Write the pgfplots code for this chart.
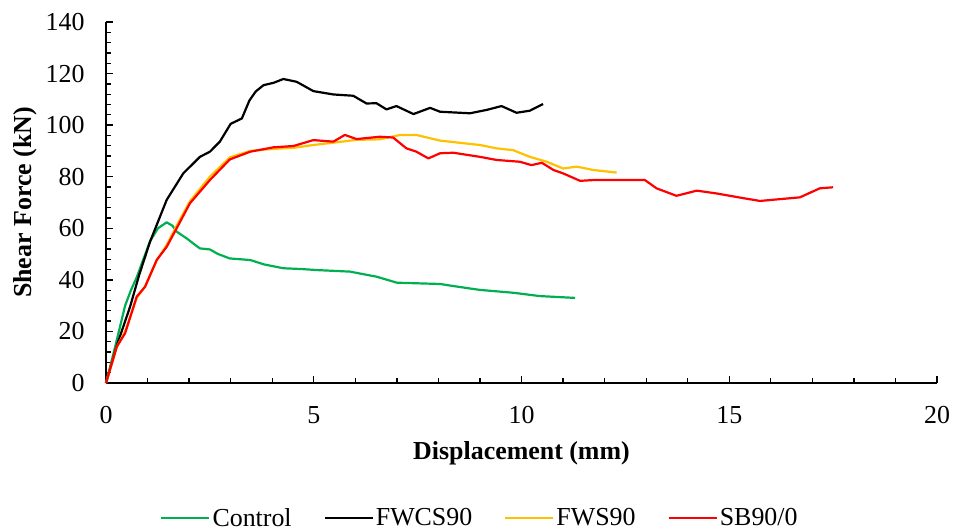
\documentclass[border=0pt]{standalone}
\usepackage{pgfplots}
\pgfplotsset{compat=1.18}
\usepackage{fontspec}
\setmainfont{Liberation Serif}
\definecolor{cgreen}{RGB}{0,176,80}
\definecolor{cyellow}{RGB}{255,192,0}
\definecolor{cred}{RGB}{255,0,0}
\begin{document}
\begin{tikzpicture}
\useasboundingbox (-106bp,-149bp) rectangle (847bp,383bp);
\begin{axis}[
  at={(0,0)}, anchor=south west,
  width=831bp, height=361bp, scale only axis,
  xmin=0, xmax=20, ymin=0, ymax=140,
  xtick={0,5,10,15,20}, ytick={0,20,...,140},
  minor x tick num=4, minor y tick num=4,
  axis lines*=left,
  axis line style={line width=1.8bp, black},
  tick style={line width=1.3bp, black},
  tick align=inside,
  major tick length=7bp, minor tick length=5bp,
  /pgf/number format/assume math mode=true,
  tick label style={font=\fontsize{26}{30}\selectfont},
  xticklabel style={yshift=-20bp},
  yticklabel style={xshift=-18bp},
  xlabel={\textbf{Displacement (mm)}},
  ylabel={\textbf{Shear Force (kN)}},
  label style={font=\fontsize{26}{30}\selectfont},
  xlabel style={at={(axis description cs:0.5,0)}, anchor=center, yshift=-70bp},
  ylabel style={at={(axis description cs:0,0.5)}, anchor=center, yshift=81bp},
  legend columns=4,
  legend style={at={(0.45,-0.374)}, anchor=center, draw=none, fill=none,
    font=\fontsize{26}{30}\selectfont,
    /tikz/every even column/.append style={column sep=30bp}},
  legend image code/.code={\draw[#1, line width=2.2bp] (0bp,0bp) -- (48bp,0bp);},
  every axis plot/.append style={line width=2.2bp, line join=round, no marks},
  clip=false,
]
\addplot[cgreen] coordinates {
(0,0) (0.22,14) (0.46,30) (0.6,36) (0.74,41) (0.9,48) (1.06,55) (1.25,60)
(1.46,62.3) (1.6,61) (1.70,58.7) (1.94,56.1) (2.15,53.5) (2.26,52.2) (2.50,51.8)
(2.7,50) (2.98,48.3) (3.47,47.7) (3.8,46) (4.27,44.5) (4.7,44.2) (5.07,43.8)
(5.87,43.2) (6.52,41.2) (7.0,38.9) (8.04,38.4) (8.4,37.5) (9.0,36.1) (9.80,35.0)
(10.45,33.7) (11.29,33.0)
};
\addlegendentry{Control}
\addplot[black] coordinates {
(0,0) (0.25,14) (0.58,29.6) (0.8,42) (1.06,54.8) (1.46,71.0) (1.86,81.3)
(2.26,87.7) (2.50,89.7) (2.74,93.6) (3.0,100.5) (3.27,102.6) (3.45,109.5) (3.6,113)
(3.79,115.5) (4.03,116.4) (4.27,117.9) (4.59,116.8) (4.99,113.2) (5.47,111.9)
(5.95,111.4) (6.27,108.4) (6.51,108.5) (6.75,106.1) (6.99,107.4) (7.40,104.3)
(7.80,106.7) (8.04,105.2) (8.76,104.6) (9.16,105.9) (9.52,107.4) (9.88,104.8)
(10.2,105.6) (10.52,108.2)
};
\addlegendentry{FWCS90}
\addplot[cyellow] coordinates {
(0,0) (0.26,14) (0.46,20) (0.74,33) (0.94,37.5) (1.22,47.5) (1.46,53.5)
(1.70,61) (2.02,70.5) (2.50,80) (2.98,87.5) (3.47,90) (4.03,90.8) (4.51,91.2)
(4.99,92.3) (5.47,93.2) (6.03,94.3) (6.59,94.5) (7.08,96.2) (7.47,96.2)
(8.04,94.0) (8.60,93.0) (9.0,92.3) (9.40,91.0) (9.80,90.3) (10.2,87.7)
(10.61,85.8) (11.0,83.2) (11.33,83.9) (11.73,82.6) (12.29,81.6)
};
\addlegendentry{FWS90}
\addplot[cred] coordinates {
(0,0) (0.26,14.1) (0.46,19.3) (0.74,33.5) (0.94,37.3) (1.22,47.7) (1.46,52.8)
(1.70,60.0) (2.02,69.7) (2.50,78.7) (2.98,86.7) (3.47,89.7) (4.03,91.4)
(4.51,91.9) (4.99,94.2) (5.47,93.6) (5.75,96.2) (6.03,94.6) (6.59,95.5)
(6.91,95.2) (7.23,91.0) (7.47,89.7) (7.76,87.1) (8.04,89.1) (8.36,89.3)
(9.0,87.7) (9.40,86.5) (9.96,85.8) (10.24,84.5) (10.49,85.4) (10.77,82.6)
(11.0,81.3) (11.41,78.4) (11.73,78.7) (12.21,78.7) (12.97,78.7) (13.25,75.5)
(13.73,72.6) (14.22,74.6) (14.70,73.5) (15.26,71.9) (15.74,70.6) (16.22,71.3)
(16.70,72.0) (17.18,75.5) (17.50,75.9)
};
\addlegendentry{SB90/0}
\end{axis}
\end{tikzpicture}
\end{document}
